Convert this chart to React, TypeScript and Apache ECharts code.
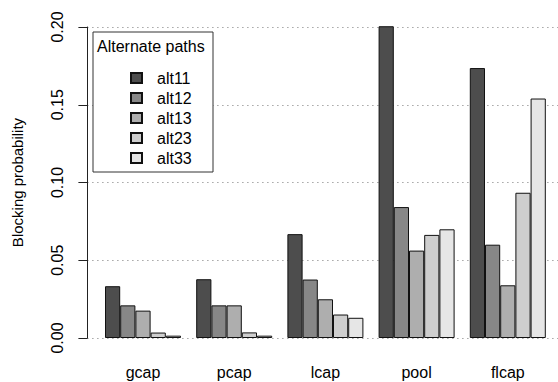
import React, { useEffect, useRef } from "react";
import * as echarts from "echarts";

const categories = ["gcap", "pcap", "lcap", "pool", "flcap"];
const seriesNames = ["alt11", "alt12", "alt13", "alt23", "alt33"];
const alt11 = [0.0333, 0.0378, 0.0668, 0.2005, 0.1736];
const alt12 = [0.021, 0.021, 0.0376, 0.0842, 0.06];
const alt13 = [0.0176, 0.021, 0.0249, 0.0562, 0.0339];
const alt23 = [0.0035, 0.0036, 0.0151, 0.0663, 0.0934];
const alt33 = [0.0015, 0.0015, 0.013, 0.0699, 0.154];
const seriesValues = [alt11, alt12, alt13, alt23, alt33];
const colors = ["#4D4D4D", "#878787", "#AEAEAE", "#CECECE", "#E6E6E6"];

const FONT = "'Liberation Sans', Arial, Helvetica, sans-serif";

export default function App() {
  const ref = useRef<HTMLDivElement>(null);
  useEffect(() => {
    if (!ref.current) return;
    const chart = echarts.init(ref.current, undefined, { renderer: "svg" });
    const option: any = {
      animation: false,
      backgroundColor: "#ffffff",
      textStyle: { fontFamily: FONT },
      grid: [
        { left: 87.4, right: -6, top: 27, bottom: 44 },
        { left: 97.4, right: 4.6, top: 27, bottom: 44 },
      ],
      xAxis: [
        { type: "value", gridIndex: 0, min: 0, max: 1, show: false },
        {
          type: "category",
          gridIndex: 1,
          data: categories,
          axisLine: { show: false },
          axisTick: { show: false },
          axisLabel: { color: "#000", fontSize: 16, fontFamily: FONT, margin: 26 },
          splitLine: { show: false },
        },
      ],
      yAxis: [
        {
          type: "value",
          gridIndex: 0,
          min: 0,
          max: 0.2,
          interval: 0.05,
          name: "Blocking probability",
          nameLocation: "middle",
          nameRotate: 90,
          nameGap: 62,
          nameTextStyle: { color: "#000", fontSize: 15, fontFamily: FONT },
          axisLine: { show: true, lineStyle: { color: "#222", width: 1 } },
          axisTick: { show: true, length: 9, lineStyle: { color: "#222" } },
          axisLabel: {
            rotate: 90,
            color: "#000",
            fontSize: 16,
            fontFamily: FONT,
            margin: 22,
            formatter: (v: number) => v.toFixed(2),
          },
          splitLine: {
            show: true,
            lineStyle: { color: "#777", type: [1, 4], width: 1 },
          },
        },
        { type: "value", gridIndex: 1, min: 0, max: 0.2, show: false },
      ],
      legend: {
        orient: "vertical",
        left: 125,
        top: 63,
        itemWidth: 11,
        itemHeight: 10,
        itemGap: 0,
        icon: "rect",
        z: 10,
        data: seriesNames,
        textStyle: {
          color: "#000",
          fontSize: 16,
          fontFamily: FONT,
          lineHeight: 20,
          padding: [0, 0, 0, 10],
        },
      },
      graphic: [
        {
          type: "rect",
          z: 5,
          shape: { x: 93, y: 32, width: 120, height: 140 },
          style: { fill: "#fff", stroke: "#333", lineWidth: 1 },
        },
        {
          type: "text",
          z: 6,
          x: 97,
          y: 46,
          style: {
            text: "Alternate paths",
            fill: "#000",
            font: `16px ${FONT}`,
            verticalAlign: "middle",
          },
        },
      ],
      series: seriesNames.map((name, i) => ({
        name,
        type: "bar",
        xAxisIndex: 1,
        yAxisIndex: 1,
        data: seriesValues[i],
        barGap: "0%",
        barCategoryGap: "16.6667%",
        clip: false,
        itemStyle: { color: colors[i], borderColor: "#111", borderWidth: 1 },
      })),
    };
    chart.setOption(option);
    return () => chart.dispose();
  }, []);
  return (
    <div
      ref={ref}
      style={{ position: "fixed", left: 0, top: 0, width: 558, height: 382 }}
    />
  );
}
